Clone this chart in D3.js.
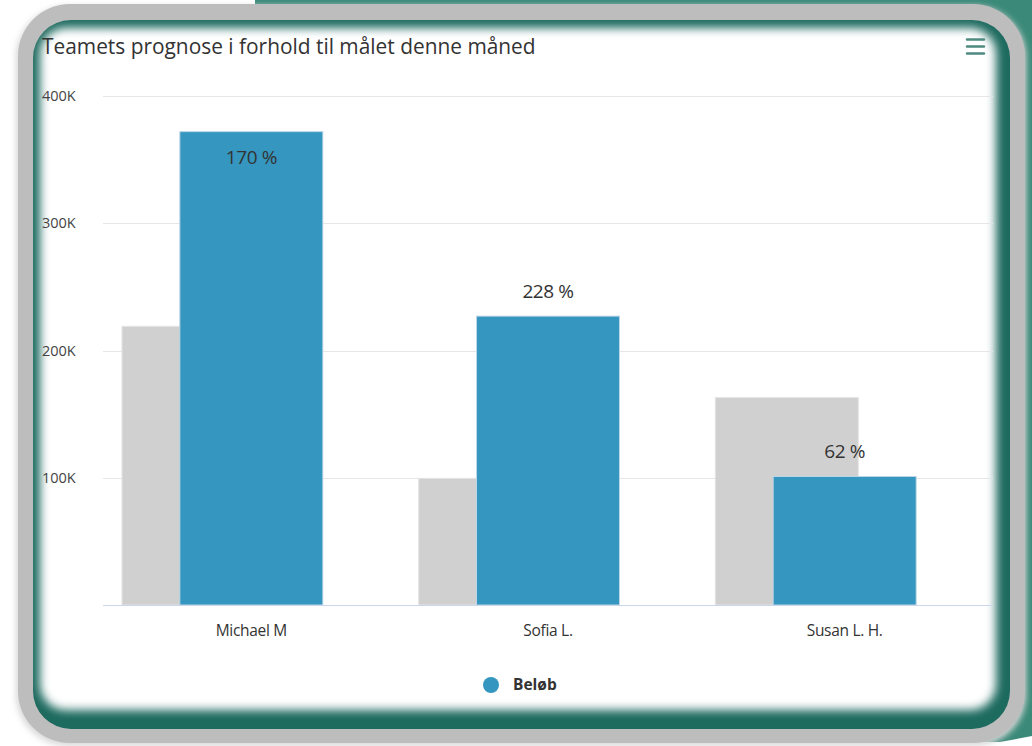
<!DOCTYPE html>
<html>
<head>
<meta charset="utf-8">
<script src="https://cdn.jsdelivr.net/npm/d3@7"></script>
<style>
  html, body { margin: 0; padding: 0; background: #ffffff; }
  svg { display: block; }
  text { font-family: "Open Sans", "Noto Sans", sans-serif; }
</style>
</head>
<body>
<svg id="chart" width="1032" height="746"></svg>
<script>
// Sales per team member this month: target (grey) vs. forecast (blue)
const categories = ["Michael M", "Sofia L.", "Susan L. H."];
const targetValues = [219000, 99500, 163000];
const forecastValues = [372000, 227000, 101000];
const yTicks = [100000, 200000, 300000, 400000];
const yTickLabels = ["100K", "200K", "300K", "400K"];
const titleText = "Teamets prognose i forhold til målet denne måned";
const legendLabel = "Beløb";

const W = 1032, H = 746;
const svg = d3.select("#chart");
const defs = svg.append("defs");

// ---- card frame ----
// teal backdrop peeking out top-right
svg.append("path")
  .attr("d", "M255,0 L1032,0 L1032,736 L1000,742 L255,742 Z")
  .attr("fill", "#3b8a79");

// soft drop shadow of the grey frame
const shadow = defs.append("filter").attr("id", "outerShadow")
  .attr("x", "-10%").attr("y", "-10%").attr("width", "120%").attr("height", "120%");
shadow.append("feGaussianBlur").attr("stdDeviation", 3);

svg.append("rect")
  .attr("x", 16).attr("y", 6).attr("width", 1010).attr("height", 740)
  .attr("rx", 52).attr("fill", "#d8d8d8").attr("filter", "url(#outerShadow)");

// grey rim
svg.append("rect")
  .attr("x", 18).attr("y", 4).attr("width", 1007).attr("height", 739)
  .attr("rx", 52).attr("fill", "#bdbdbd");

// inner panel with teal inner glow
const panel = { x: 33, y: 20, w: 977, h: 709, r: 38 };
defs.append("clipPath").attr("id", "panelClip")
  .append("rect").attr("x", panel.x).attr("y", panel.y)
  .attr("width", panel.w).attr("height", panel.h).attr("rx", panel.r);

const glow = defs.append("filter").attr("id", "whiteBlur")
  .attr("x", "-5%").attr("y", "-5%").attr("width", "110%").attr("height", "110%");
glow.append("feGaussianBlur").attr("stdDeviation", 5);

const panelG = svg.append("g").attr("clip-path", "url(#panelClip)");
panelG.append("rect")
  .attr("x", panel.x).attr("y", panel.y).attr("width", panel.w).attr("height", panel.h)
  .attr("fill", "#1d6a5f");
panelG.append("rect")
  .attr("x", 40).attr("y", 28).attr("width", 956).attr("height", 682)
  .attr("rx", 26).attr("fill", "#ffffff").attr("filter", "url(#whiteBlur)");

// ---- chart ----
const plot = { left: 103, right: 993, top: 96, bottom: 605 };

const y = d3.scaleLinear()
  .domain([0, 400000])
  .range([plot.bottom, plot.top]);

const x = d3.scaleBand()
  .domain(categories)
  .range([plot.left, plot.right])
  .paddingInner(0).paddingOuter(0);

const step = x.bandwidth();
const barW = step * 0.482;
const forecastOffset = (step - barW) / 2;
const targetOffset = forecastOffset - step * 0.195;

// title
const title = svg.append("text")
  .attr("x", 42).attr("y", 54)
  .attr("fill", "#333333")
  .style("font-size", "20px")
  .text(titleText);
const tw = title.node().getComputedTextLength();
title.style("font-size", (20 * 494 / tw).toFixed(2) + "px");

// menu icon
const menu = svg.append("g").attr("stroke", "#4d8a80").attr("stroke-width", 2.4)
  .attr("stroke-linecap", "round");
[39.5, 46.5, 53.5].forEach(yy => {
  menu.append("line").attr("x1", 967).attr("x2", 984).attr("y1", yy).attr("y2", yy);
});

// grid lines
svg.append("g")
  .selectAll("line")
  .data(yTicks)
  .join("line")
  .attr("x1", plot.left).attr("x2", plot.right)
  .attr("y1", d => Math.round(y(d)) + 0.5).attr("y2", d => Math.round(y(d)) + 0.5)
  .attr("stroke", "#e6e6e6").attr("stroke-width", 1);

// y tick labels
svg.append("g")
  .selectAll("text")
  .data(yTicks)
  .join("text")
  .attr("x", 42).attr("y", d => y(d))
  .attr("dy", "0.35em")
  .attr("fill", "#444444")
  .style("font-size", "14.5px")
  .text((d, i) => yTickLabels[i]);

// target bars (behind)
svg.append("g")
  .selectAll("rect")
  .data(categories)
  .join("rect")
  .attr("x", (d) => x(d) + targetOffset)
  .attr("width", barW)
  .attr("y", (d, i) => y(targetValues[i]))
  .attr("height", (d, i) => y(0) - y(targetValues[i]))
  .attr("fill", "#d0d0d0")
  .attr("stroke", "#e4e4e4").attr("stroke-width", 1);

// forecast bars
svg.append("g")
  .selectAll("rect")
  .data(categories)
  .join("rect")
  .attr("x", (d) => x(d) + forecastOffset)
  .attr("width", barW)
  .attr("y", (d, i) => y(forecastValues[i]))
  .attr("height", (d, i) => y(0) - y(forecastValues[i]))
  .attr("fill", "#3596bf")
  .attr("stroke", "#bcd6e6").attr("stroke-width", 1);

// x axis line
svg.append("line")
  .attr("x1", plot.left).attr("x2", plot.right)
  .attr("y1", plot.bottom + 0.5).attr("y2", plot.bottom + 0.5)
  .attr("stroke", "#ccd6eb").attr("stroke-width", 1);

// category labels
svg.append("g")
  .selectAll("text")
  .data(categories)
  .join("text")
  .attr("x", d => x(d) + step / 2)
  .attr("y", 631)
  .attr("dy", "0.35em")
  .attr("text-anchor", "middle")
  .attr("fill", "#333333")
  .style("font-size", "15.5px")
  .style("letter-spacing", "-0.3px")
  .text(d => d);

// percentage of target reached
svg.append("g")
  .selectAll("text")
  .data(categories)
  .join("text")
  .attr("x", d => x(d) + step / 2)
  .attr("y", (d, i) => {
    const top = y(forecastValues[i]);
    // labels that would crowd the top of the plot go inside the bar
    return top - plot.top < 60 ? top + 26 : top - 25;
  })
  .attr("dy", "0.35em")
  .attr("text-anchor", "middle")
  .attr("fill", "#333333")
  .style("font-size", "19px")
  .style("letter-spacing", "-0.4px")
  .text((d, i) => Math.round(forecastValues[i] / targetValues[i] * 100) + " %");

// legend
const legend = svg.append("g");
legend.append("circle").attr("cx", 491).attr("cy", 685).attr("r", 8).attr("fill", "#3596bf");
legend.append("text")
  .attr("x", 513).attr("y", 685).attr("dy", "0.35em")
  .attr("fill", "#333333")
  .style("font-size", "15.5px").style("font-weight", "bold")
  .text(legendLabel);
</script>
</body>
</html>
